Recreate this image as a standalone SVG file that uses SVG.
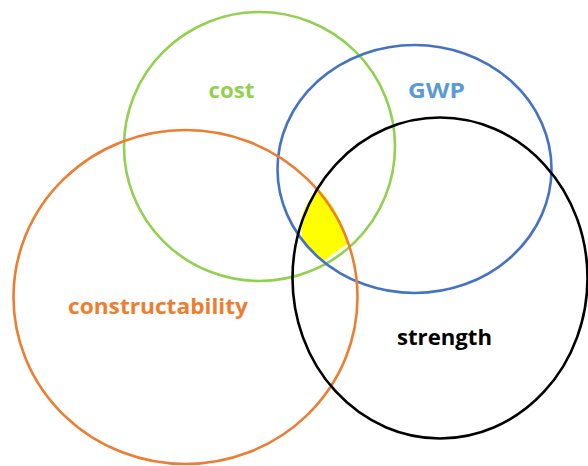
<svg xmlns="http://www.w3.org/2000/svg" width="588" height="466" viewBox="0 0 588 466">
  <style>
    .ring { fill: none; stroke-width: 2.6; }
    .label { font-family: "Open Sans", "Liberation Sans", sans-serif; font-weight: bold; font-size: 21px; text-anchor: middle; }
  </style>
  <rect width="588" height="466" fill="#ffffff"/>

  <!-- shared region of all four sets -->
  <g id="overlap">
    <path d="M319,189 C326,196 336,210 342,224 C345,231 347,238 348,243 C345,246 340,249 336,252 C331,255 327,259 322,262 C318,258 315,254 312,251 C309,247 306,243 302,238 C301,230 301,220 303,213 C305,206 310,198 319,189 Z" fill="#ffff00"/>
  </g>

  <g id="cost">
    <ellipse class="ring" cx="259.5" cy="146.5" rx="135.5" ry="134.5" stroke="#92d050"/>
    <text class="label" x="231.5" y="98" fill="#92d050" textLength="46" lengthAdjust="spacingAndGlyphs">cost</text>
  </g>

  <g id="gwp">
    <ellipse class="ring" cx="414.5" cy="169" rx="137" ry="124" stroke="#4472c4"/>
    <text class="label" x="436.5" y="98" fill="#5b9bd5" textLength="57" lengthAdjust="spacingAndGlyphs">GWP</text>
  </g>

  <g id="constructability">
    <ellipse class="ring" cx="185.5" cy="297" rx="172" ry="167" stroke="#ed7d31"/>
    <text class="label" x="158" y="314" fill="#ed7d31" textLength="180" lengthAdjust="spacingAndGlyphs">constructability</text>
  </g>

  <g id="strength">
    <ellipse class="ring" cx="440" cy="278" rx="147.5" ry="160.5" stroke="#000000"/>
    <text class="label" x="444.5" y="345" fill="#000000" textLength="95" lengthAdjust="spacingAndGlyphs">strength</text>
  </g>
</svg>
